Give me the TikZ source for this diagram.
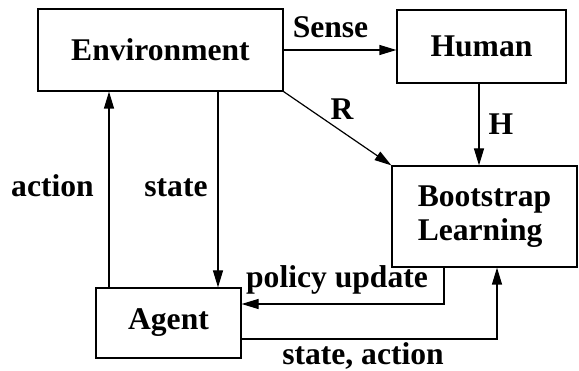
\documentclass[tikz,border=0pt]{standalone}
\usepackage{fontspec}
\setmainfont{Liberation Serif}
\usepackage{tikz}
\usetikzlibrary{arrows.meta,positioning}

\begin{document}
\begin{tikzpicture}[x=1pt,y=-1pt,line width=1.2pt,
                    font=\fontsize{31.6}{36}\selectfont\bfseries,
                    blk/.style={draw,rectangle,inner sep=0pt},
                    lbl/.style={inner sep=0pt,anchor=base},
                    >={Triangle[length=17pt,width=10pt]}]
                \useasboundingbox (0,0) rectangle (579,371);
                % boxes
                \node[blk,minimum width=245pt,minimum height=82pt] (env) at (160.5,50) {Environment};
                \node[blk,minimum width=169pt,minimum height=73pt] (human) at (481.5,46.5) {Human};
                \node[blk,minimum width=185pt,minimum height=101pt,align=left] (boot) at (484.5,216.5) {Bootstrap\\[-2pt]Learning};
                \node[blk,minimum width=145pt,minimum height=70pt] (agent) at (168.5,323) {Agent};
                % connectors
                \draw[->] (env.east) -- (env.east -| human.west);
                \draw[->] ([xshift=-2.5pt]human.south) -- ([xshift=-2.5pt]human.south |- boot.north);
                \draw[->] (env.south east) -- (boot.north west);
                \draw[->] ([xshift=57.5pt]env.south) -- ([xshift=57.5pt]env.south |- agent.north);
                \draw[->] ([xshift=-59.5pt]agent.north) -- ([xshift=-59.5pt]agent.north |- env.south);
                \draw[->] ([xshift=-40.5pt]boot.south) |- ([yshift=19pt]agent.east);
                \draw[->] ([yshift=-16pt]agent.east) -| ([xshift=12.5pt]boot.south);
                % labels
                \node[lbl] (sense) at (330.5,38) {Sense};
                \node[lbl] (hlbl) at (501,135) {H};
                \node[lbl] (rlbl) at (342,120) {R};
                \node[lbl] (action) at (52.5,197) {action};
                \node[lbl] (state) at (176,197) {state};
                \node[lbl] (policy) at (337,288) {policy update};
                \node[lbl] (stact) at (363,365) {state, action};
\end{tikzpicture}
\end{document}
